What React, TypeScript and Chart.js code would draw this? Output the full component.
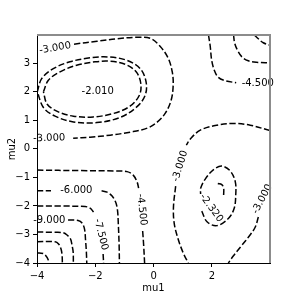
import React, { useEffect, useRef } from "react";
import { Chart, registerables } from "chart.js";
Chart.register(...registerables);

const X_TICKS = [-4, -2, 0, 2];
const Y_TICKS = [-4, -3, -2, -1, 0, 1, 2, 3];
const AXIS_MIN = -4;
const AXIS_MAX = 3.99;

type P = [number, number];

// contour polylines (data coordinates mu1, mu2)
const TL_RING_OUTER: P[] = [[-3.99,2.0],[-3.84,2.46],[-3.44,2.81],[-2.87,3.05],[-2.18,3.19],[-1.55,3.22],[-0.92,3.105],[-0.46,2.81],[-0.26,2.35],[-0.29,1.88],[-0.58,1.47],[-1.15,1.1],[-1.95,0.92],[-2.75,0.945],[-3.38,1.145],[-3.78,1.45],[-3.99,2.0]];
const TL_RING_INNER: P[] = [[-3.78,2.0],[-3.61,2.405],[-3.21,2.7],[-2.64,2.93],[-2.01,3.05],[-1.49,3.07],[-0.98,2.965],[-0.6,2.7],[-0.44,2.29],[-0.49,1.88],[-0.81,1.495],[-1.38,1.24],[-2.07,1.12],[-2.75,1.145],[-3.27,1.295],[-3.65,1.565],[-3.78,2.0]];
const TL_M3: P[] = [[-2.73,3.67],[-1.94,3.77],[-1.25,3.86],[-0.57,3.91],[-0.12,3.875],[0.22,3.595],[0.5,3.175],[0.64,2.685],[0.67,2.23],[0.6,1.705],[0.4,1.25],[0.12,0.935],[-0.22,0.725],[-0.81,0.585],[-1.49,0.48],[-2.18,0.41],[-2.76,0.375]];
const BR_M3_A: P[] = [[3.99,0.64],[3.31,0.83],[2.74,0.89],[2.17,0.83],[1.6,0.655],[1.25,0.34],[1.12,0.13]];
const BR_M3_B: P[] = [[0.755,-1.305],[0.68,-2.03],[0.705,-2.61],[0.85,-3.195],[1.02,-3.66],[1.185,-4]];
const BR_M3_EDGE: P[] = [[3.59,-2.39],[3.485,-2.74],[3.28,-3.055],[3.005,-3.405],[2.73,-3.755],[2.56,-4]];
const BR_RING: P[] = [[1.65,-2.18],[1.83,-2.555],[2.17,-2.69],[2.57,-2.435],[2.765,-2.075],[2.815,-1.62],[2.8,-1.155],[2.63,-0.78],[2.34,-0.605],[2.055,-0.7275],[1.77,-1.06],[1.615,-1.375],[1.61,-1.585]];
const BR_PEAK: P[] = [[2.2,-1.2175],[2.335,-1.2525],[2.4,-1.375],[2.4,-1.62]];
const TR_M45: P[] = [[1.88,3.99],[1.94,3.595],[1.99,3.105],[2.08,2.755],[2.215,2.51],[2.455,2.3875],[2.83,2.3175]];
const TR_M6: P[] = [[2.74,3.99],[2.78,3.7],[2.885,3.4375],[3.04,3.21],[3.245,3.0875],[3.52,3.035],[3.99,3.0175]];
const TR_M75: P[] = [[3.45,3.99],[3.59,3.8575],[3.76,3.7175],[3.99,3.63]];
const BL_M45_A: P[] = [[-4,-0.745],[-2.52,-0.7625],[-1.32,-0.773],[-0.91,-0.7975],[-0.7,-0.92],[-0.566,-1.165],[-0.515,-1.375]];
const BL_M45_B: P[] = [[-0.377,-2.88],[-0.343,-3.37],[-0.31,-4]];
const BL_M6_A: P[] = [[-4,-1.47],[-3.52,-1.47]];
const BL_M6_B: P[] = [[-1.785,-1.47],[-1.596,-1.515],[-1.425,-1.655],[-1.304,-1.865],[-1.24,-2.145],[-1.21,-2.67],[-1.184,-3.37],[-1.174,-4]];
const BL_M75_A: P[] = [[-4,-2.005],[-3.21,-2.005],[-2.35,-2.0225],[-2.18,-2.075],[-2.06,-2.215]];
const BL_M75_B: P[] = [[-1.733,-3.685],[-1.716,-4]];
const BL_M9: P[] = [[-2.935,-2.495],[-2.59,-2.5125],[-2.455,-2.6],[-2.37,-2.81],[-2.335,-3.195],[-2.307,-3.615],[-2.293,-4]];
const BL_M105: P[] = [[-4,-2.915],[-3.38,-2.925],[-3.107,-2.94],[-2.97,-3.02],[-2.85,-3.16],[-2.8,-3.37],[-2.76,-3.615],[-2.753,-4]];
const BL_M12: P[] = [[-4,-3.255],[-3.38,-3.255],[-3.26,-3.335],[-3.176,-3.51],[-3.14,-3.72],[-3.13,-4]];
const BL_M135: P[] = [[-4,-3.65],[-3.79,-3.6675],[-3.69,-3.755],[-3.62,-3.8775],[-3.6,-4]];

const SEGMENTS: P[][] = [TL_RING_OUTER, TL_RING_INNER, TL_M3, BR_M3_A, BR_M3_B, BR_M3_EDGE, BR_RING, BR_PEAK, TR_M45, TR_M6, TR_M75, BL_M45_A, BL_M45_B, BL_M6_A, BL_M6_B, BL_M75_A, BL_M75_B, BL_M9, BL_M105, BL_M12, BL_M135];

// contour labels: level text, anchor (data coords), angle in degrees
const LABEL_TEXT = ["-3.000", "-3.000", "-2.010", "-2.320", "-3.000", "-3.000", "-4.500", "-4.500", "-6.000", "-7.500", "-9.000"];
const LABEL_X = [-3.38, -3.58, -1.92, 1.975, 0.91, 3.73, 3.57, -0.41, -2.65, -1.81, -3.58];
const LABEL_Y = [3.53, 0.375, 2.0, -2.075, -0.605, -1.76, 2.28, -2.13, -1.47, -3.0, -2.495];
const LABEL_ANGLE = [-10, -2, 0, 54, -73, -62, 0, 84, 0, 76, 0];

const FONT = "DejaVu Sans";
const fmt = (v: number) => (v < 0 ? "\u2212" + Math.abs(v) : String(v));

const overlay = {
  id: "contourLabels",
  afterDatasetsDraw(chart: any) {
    const { ctx, scales, chartArea } = chart;
    const xs = scales.x, ys = scales.y;
    ctx.save();
    ctx.font = `10px "${FONT}"`;
    ctx.fillStyle = "#000";
    ctx.textAlign = "center";
    ctx.textBaseline = "middle";
    LABEL_TEXT.forEach((t, i) => {
      const px = xs.getPixelForValue(LABEL_X[i]);
      const py = ys.getPixelForValue(LABEL_Y[i]);
      ctx.save();
      ctx.translate(px, py);
      ctx.rotate((LABEL_ANGLE[i] * Math.PI) / 180);
      ctx.fillText(t, 0, 0);
      ctx.restore();
    });
    ctx.strokeStyle = "rgb(140,140,140)";
    ctx.lineWidth = 2;
    ctx.beginPath();
    ctx.moveTo(chartArea.left, chartArea.top);
    ctx.lineTo(chartArea.right, chartArea.top);
    ctx.lineTo(chartArea.right, chartArea.bottom);
    ctx.stroke();
    ctx.restore();
  },
};

export default function App() {
  const ref = useRef<HTMLCanvasElement>(null);
  useEffect(() => {
    document.body.style.margin = "0";
    const axisCommon = (ticks: number[], title: string, isX: boolean) => ({
      type: "linear" as const,
      min: AXIS_MIN,
      max: AXIS_MAX,
      afterBuildTicks: (s: any) => {
        s.ticks = ticks.map((v) => ({ value: v }));
      },
      afterFit: (s: any) => {
        if (isX) s.height = 37;
        else s.width = 37;
      },
      grid: { display: true, drawOnChartArea: false, drawTicks: true, tickLength: 4, color: "#000", tickColor: "#000", tickWidth: 1 },
      border: { display: true, color: "#000", width: 1 },
      ticks: {
        autoSkip: false,
        maxRotation: 0,
        padding: 3,
        color: "#000",
        font: { family: FONT, size: 10 },
        callback: (v: any) => fmt(Number(v)),
      },
      title: { display: true, text: title, color: "#000", font: { family: FONT, size: 10 }, padding: { top: 6, bottom: 6 } },
    });
    const chart = new Chart(ref.current!, {
      type: "scatter",
      data: {
        datasets: SEGMENTS.map((seg) => ({
          data: seg.map(([x, y]) => ({ x, y })),
          showLine: true,
          borderColor: "#000",
          borderWidth: 1.5,
          borderDash: [6.2, 2.6],
          pointRadius: 0,
          fill: false,
          tension: 0.35,
        })),
      },
      options: {
        animation: false,
        responsive: false,
        layout: { padding: { top: 35, right: 30, left: 0, bottom: 0 } },
        plugins: { legend: { display: false }, tooltip: { enabled: false } },
        scales: {
          x: axisCommon(X_TICKS, "mu1", true),
          y: axisCommon(Y_TICKS, "mu2", false),
        },
      },
      plugins: [overlay],
    } as any);
    return () => chart.destroy();
  }, []);
  return (
    <div style={{ width: 300, height: 300 }}>
      <canvas ref={ref} width={300} height={300} style={{ display: "block" }} />
    </div>
  );
}
